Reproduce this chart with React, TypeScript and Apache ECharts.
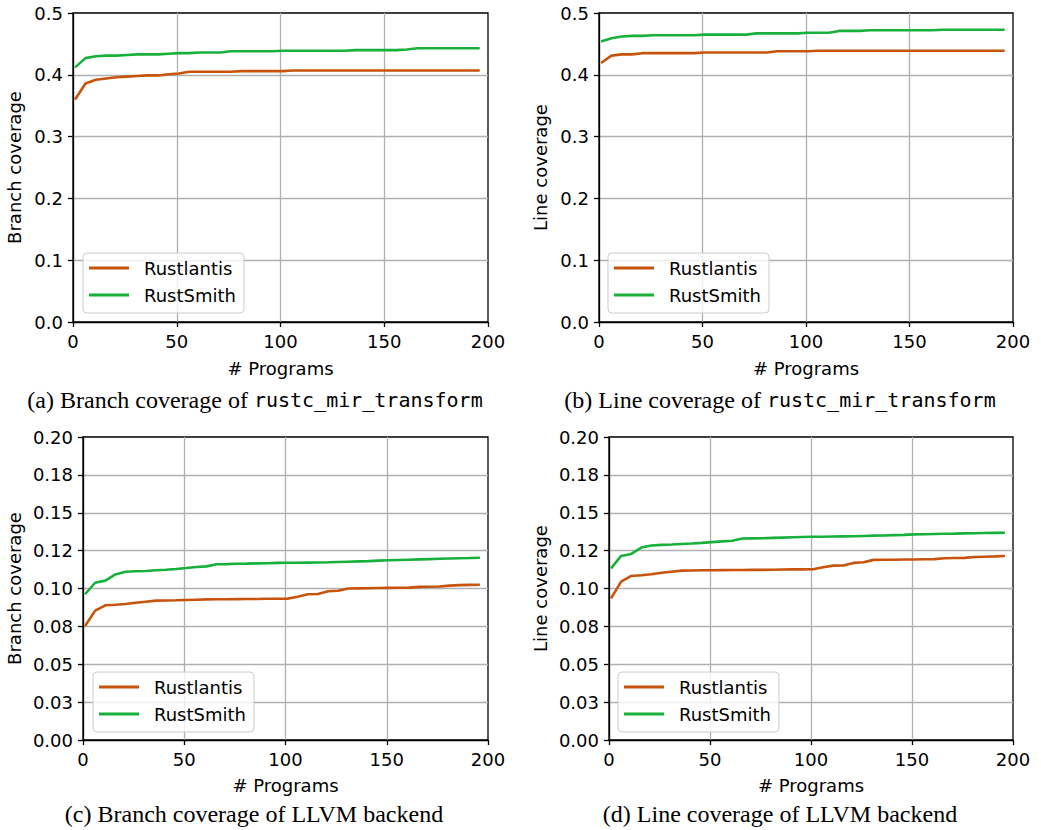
import React, { useEffect, useRef } from 'react';
import * as echarts from 'echarts';

// # Programs sampled every 5 programs
const programs = [1, 6, 11, 16, 21, 26, 31, 36, 41, 46, 51, 56, 61, 66, 71, 76, 81, 86, 91, 96,
  101, 106, 111, 116, 121, 126, 131, 136, 141, 146, 151, 156, 161, 166, 171, 176, 181, 186, 191, 196];

// (a) Branch coverage of rustc_mir_transform
const mirBranchRustlantis = [0.360, 0.386, 0.392, 0.394, 0.396, 0.397, 0.398, 0.399, 0.399, 0.401,
  0.402, 0.405, 0.405, 0.405, 0.405, 0.405, 0.406, 0.406, 0.406, 0.406,
  0.406, 0.407, 0.407, 0.407, 0.407, 0.407, 0.407, 0.407, 0.407, 0.407,
  0.407, 0.407, 0.407, 0.407, 0.407, 0.407, 0.407, 0.407, 0.407, 0.407];
const mirBranchRustSmith = [0.412, 0.427, 0.430, 0.431, 0.431, 0.432, 0.433, 0.433, 0.433, 0.434,
  0.435, 0.435, 0.436, 0.436, 0.436, 0.438, 0.438, 0.438, 0.438, 0.438,
  0.439, 0.439, 0.439, 0.439, 0.439, 0.439, 0.439, 0.440, 0.440, 0.440,
  0.440, 0.440, 0.441, 0.443, 0.443, 0.443, 0.443, 0.443, 0.443, 0.443];

// (b) Line coverage of rustc_mir_transform
const mirLineRustlantis = [0.419, 0.431, 0.433, 0.433, 0.435, 0.435, 0.435, 0.435, 0.435, 0.435,
  0.436, 0.436, 0.436, 0.436, 0.436, 0.436, 0.436, 0.438, 0.438, 0.438,
  0.438, 0.439, 0.439, 0.439, 0.439, 0.439, 0.439, 0.439, 0.439, 0.439,
  0.439, 0.439, 0.439, 0.439, 0.439, 0.439, 0.439, 0.439, 0.439, 0.439];
const mirLineRustSmith = [0.454, 0.459, 0.462, 0.463, 0.463, 0.464, 0.464, 0.464, 0.464, 0.464,
  0.465, 0.465, 0.465, 0.465, 0.465, 0.467, 0.467, 0.467, 0.467, 0.467,
  0.468, 0.468, 0.468, 0.471, 0.471, 0.471, 0.472, 0.472, 0.472, 0.472,
  0.472, 0.472, 0.472, 0.473, 0.473, 0.473, 0.473, 0.473, 0.473, 0.473];

// (c) Branch coverage of LLVM backend
const llvmBranchRustlantis = [0.0752, 0.0854, 0.0889, 0.0893, 0.0898, 0.0906, 0.0913, 0.0920, 0.0921, 0.0922,
  0.0924, 0.0926, 0.0928, 0.0929, 0.0929, 0.0930, 0.0931, 0.0931, 0.0932, 0.0932,
  0.0933, 0.0945, 0.0962, 0.0964, 0.0982, 0.0985, 0.1000, 0.1001, 0.1002, 0.1003,
  0.1004, 0.1005, 0.1006, 0.1011, 0.1012, 0.1013, 0.1019, 0.1022, 0.1024, 0.1025];
const llvmBranchRustSmith = [0.0962, 0.1038, 0.1052, 0.1093, 0.1111, 0.1114, 0.1116, 0.1120, 0.1124, 0.1129,
  0.1135, 0.1142, 0.1146, 0.1160, 0.1161, 0.1163, 0.1164, 0.1166, 0.1167, 0.1169,
  0.1170, 0.1170, 0.1171, 0.1172, 0.1173, 0.1175, 0.1177, 0.1179, 0.1181, 0.1184,
  0.1186, 0.1188, 0.1190, 0.1192, 0.1194, 0.1196, 0.1198, 0.1200, 0.1201, 0.1203];

// (d) Line coverage of LLVM backend
const llvmLineRustlantis = [0.0935, 0.1045, 0.1083, 0.1087, 0.1094, 0.1104, 0.1111, 0.1118, 0.1119, 0.1120,
  0.1120, 0.1121, 0.1122, 0.1122, 0.1123, 0.1123, 0.1124, 0.1125, 0.1126, 0.1126,
  0.1127, 0.1140, 0.1151, 0.1152, 0.1169, 0.1173, 0.1189, 0.1190, 0.1190, 0.1191,
  0.1191, 0.1193, 0.1194, 0.1200, 0.1201, 0.1202, 0.1208, 0.1210, 0.1212, 0.1215];
const llvmLineRustSmith = [0.1133, 0.1215, 0.1228, 0.1270, 0.1284, 0.1288, 0.1290, 0.1294, 0.1297, 0.1301,
  0.1306, 0.1311, 0.1315, 0.1330, 0.1331, 0.1332, 0.1334, 0.1336, 0.1338, 0.1340,
  0.1342, 0.1342, 0.1343, 0.1344, 0.1345, 0.1347, 0.1349, 0.1350, 0.1352, 0.1354,
  0.1357, 0.1358, 0.1360, 0.1361, 0.1362, 0.1364, 0.1365, 0.1366, 0.1367, 0.1368];

const topYTicks = ['0.0', '0.1', '0.2', '0.3', '0.4', '0.5'];
const bottomYTicks = ['0.00', '0.03', '0.05', '0.08', '0.10', '0.12', '0.15', '0.18', '0.20'];
const seriesNames = ['Rustlantis', 'RustSmith'];
const xAxisName = '# Programs';

const COLORS = ['#c8530c', '#17b03a'];
const SANS = 'DejaVu Sans';

const panels = [
  {
    grid: { left: 73, top: 13, width: 415, height: 309 },
    ymax: 0.5, interval: 0.1, ticks: topYTicks, yName: 'Branch coverage', yGap: 50, xGap: 37,
    data: [mirBranchRustlantis, mirBranchRustSmith],
    legend: { left: 83, top: 253 },
    caption: { x: 255, y: 400, prefix: '(a) Branch coverage of ', mono: 'rustc_mir_transform' },
  },
  {
    grid: { left: 599, top: 13, width: 414, height: 309 },
    ymax: 0.5, interval: 0.1, ticks: topYTicks, yName: 'Line coverage', yGap: 50, xGap: 37,
    data: [mirLineRustlantis, mirLineRustSmith],
    legend: { left: 608, top: 253 },
    caption: { x: 780, y: 400, prefix: '(b) Line coverage of ', mono: 'rustc_mir_transform' },
  },
  {
    grid: { left: 83, top: 437, width: 405, height: 303 },
    ymax: 0.2, interval: 0.025, ticks: bottomYTicks, yName: 'Branch coverage', yGap: 60, xGap: 36,
    data: [llvmBranchRustlantis, llvmBranchRustSmith],
    legend: { left: 93, top: 672 },
    caption: { x: 254, y: 814, prefix: '(c) Branch coverage of LLVM backend', mono: '' },
  },
  {
    grid: { left: 609, top: 437, width: 404, height: 303 },
    ymax: 0.2, interval: 0.025, ticks: bottomYTicks, yName: 'Line coverage', yGap: 60, xGap: 36,
    data: [llvmLineRustlantis, llvmLineRustSmith],
    legend: { left: 618, top: 672 },
    caption: { x: 780, y: 814, prefix: '(d) Line coverage of LLVM backend', mono: '' },
  },
];

export default function App() {
  const ref = useRef<HTMLDivElement>(null);

  useEffect(() => {
    document.body.style.margin = '0';
    const chart = echarts.init(ref.current!, null, { renderer: 'svg' });

    const textBase = { fontSize: 18, fontFamily: SANS, color: '#000' };

    const option: any = {
      animation: false,
      backgroundColor: '#fff',
      grid: panels.map((p) => ({
        ...p.grid,
        show: true,
        borderColor: '#000',
        borderWidth: 1.3,
        backgroundColor: 'transparent',
        containLabel: false,
      })),
      xAxis: panels.map((p, i) => ({
        gridIndex: i,
        type: 'value',
        min: 0,
        max: 200,
        interval: 50,
        name: xAxisName,
        nameLocation: 'middle',
        nameGap: p.xGap,
        nameTextStyle: textBase,
        axisLine: { show: true, onZero: false, lineStyle: { color: '#000', width: 1.3 } },
        axisTick: { show: true, length: 5, lineStyle: { color: '#000', width: 1.3 } },
        axisLabel: { ...textBase, margin: 10 },
        splitLine: { show: true, showMinLine: false, showMaxLine: false, lineStyle: { color: '#b0b0b0', width: 1.3 } },
      })),
      yAxis: panels.map((p, i) => ({
        gridIndex: i,
        type: 'value',
        min: 0,
        max: p.ymax,
        interval: p.interval,
        name: p.yName,
        nameLocation: 'middle',
        nameGap: p.yGap,
        nameTextStyle: textBase,
        axisLine: { show: true, onZero: false, lineStyle: { color: '#000', width: 1.3 } },
        axisTick: { show: true, length: 5, lineStyle: { color: '#000', width: 1.3 } },
        axisLabel: {
          ...textBase,
          margin: 10,
          formatter: (v: number) => p.ticks[Math.round(v / p.interval)] ?? '',
        },
        splitLine: { show: true, showMinLine: false, showMaxLine: false, lineStyle: { color: '#b0b0b0', width: 1.3 } },
      })),
      legend: panels.map((p) => ({
        left: p.legend.left,
        top: p.legend.top,
        orient: 'vertical',
        icon: 'rect',
        itemWidth: 40,
        itemHeight: 3,
        itemGap: 7,
        padding: [5, 8, 8, 6],
        borderColor: '#cccccc',
        borderWidth: 1,
        borderRadius: 4,
        backgroundColor: 'rgba(255,255,255,0.8)',
        selectedMode: false,
        textStyle: { ...textBase, lineHeight: 20, padding: [0, 0, 0, 10] },
        data: seriesNames,
      })),
      series: panels.flatMap((p, i) =>
        p.data.map((vals, k) => ({
          name: seriesNames[k],
          type: 'line',
          xAxisIndex: i,
          yAxisIndex: i,
          symbol: 'none',
          showSymbol: false,
          color: COLORS[k],
          itemStyle: { color: COLORS[k] },
          lineStyle: { color: COLORS[k], width: 2.6 },
          data: programs.map((x, j) => [x, vals[j]]),
        }))
      ),
      graphic: panels.map((p) => ({
        type: 'text',
        x: p.caption.x,
        y: p.caption.y,
        style: {
          text: p.caption.mono
            ? `{s|${p.caption.prefix}}{m|${p.caption.mono}}`
            : `{s|${p.caption.prefix}}`,
          align: 'center',
          verticalAlign: 'middle',
          rich: {
            s: { fontFamily: 'Liberation Serif', fontSize: 24, fill: '#000' },
            m: { fontFamily: 'DejaVu Sans Mono', fontSize: 20, fill: '#000' },
          },
        },
      })),
    };

    chart.setOption(option);
    return () => chart.dispose();
  }, []);

  return <div ref={ref} style={{ width: 1041, height: 830 }} />;
}
